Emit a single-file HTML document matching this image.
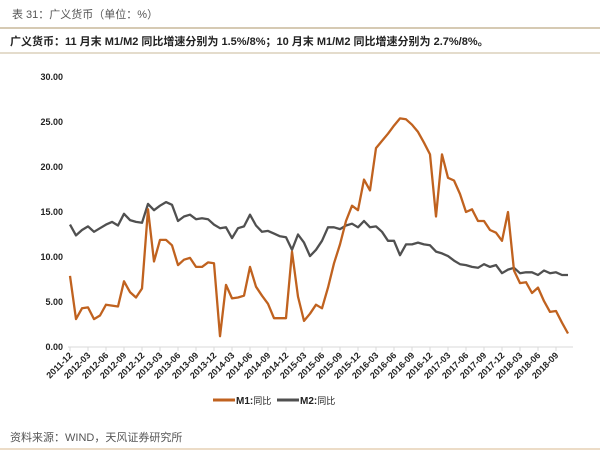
<!DOCTYPE html>
<html><head><meta charset="utf-8"><style>
body{margin:0;background:#fff;width:600px;height:452px;overflow:hidden;font-family:"Liberation Sans","Noto Sans CJK SC",sans-serif;}
</style></head><body>
<svg id="s" width="600" height="452" xmlns="http://www.w3.org/2000/svg" font-family="Liberation Sans, Noto Sans CJK SC, sans-serif">
<text x="12" y="18" font-size="11" fill="#555">表 31：广义货币（单位：%）</text>
<line x1="0" y1="28" x2="600" y2="28" stroke="#c8b89a" stroke-width="1.5"/>
<text x="10" y="45" font-size="11" font-weight="bold" fill="#222">广义货币：11 月末 M1/M2 同比增速分别为 1.5%/8%；10 月末 M1/M2 同比增速分别为 2.7%/8%。</text>
<line x1="0" y1="53" x2="600" y2="53" stroke="#c8b89a" stroke-width="1"/>
<g id="g"></g>
<line x1="213" y1="400" x2="235" y2="400" stroke="#c0621f" stroke-width="3"/>
<text x="236" y="404" font-size="10" font-weight="bold" fill="#222">M1:<tspan font-weight="normal" font-size="9">同比</tspan></text>
<line x1="277" y1="400" x2="299" y2="400" stroke="#505050" stroke-width="3"/>
<text x="300" y="404" font-size="10" font-weight="bold" fill="#222">M2:<tspan font-weight="normal" font-size="9">同比</tspan></text>
<text x="10" y="441" font-size="11" fill="#555">资料来源：WIND，天风证券研究所</text>
<line x1="0" y1="449" x2="600" y2="449" stroke="#d9b88f" stroke-width="1"/>
</svg>
<script>
var m1=[7.9,3.1,4.3,4.4,3.1,3.5,4.7,4.6,4.5,7.3,6.1,5.5,6.5,15.3,9.5,11.9,11.9,11.3,9.1,9.7,9.9,8.9,8.9,9.4,9.3,1.2,6.9,5.4,5.5,5.7,8.9,6.7,5.7,4.8,3.2,3.2,3.2,10.6,5.6,2.9,3.7,4.7,4.3,6.6,9.3,11.4,14.0,15.7,15.2,18.6,17.4,22.1,22.9,23.7,24.6,25.4,25.3,24.7,23.9,22.7,21.4,14.5,21.4,18.8,18.5,17.0,15.0,15.3,14.0,14.0,13.0,12.7,11.8,15.0,8.5,7.1,7.2,6.0,6.6,5.1,3.9,4.0,2.7,1.5];
var m2=[13.6,12.4,13.0,13.4,12.8,13.2,13.6,13.9,13.5,14.8,14.1,13.9,13.8,15.9,15.2,15.7,16.1,15.8,14.0,14.5,14.7,14.2,14.3,14.2,13.6,13.2,13.3,12.1,13.2,13.4,14.7,13.5,12.8,12.9,12.6,12.3,12.2,10.8,12.5,11.6,10.1,10.8,11.8,13.3,13.3,13.1,13.5,13.7,13.3,14.0,13.3,13.4,12.8,11.8,11.8,10.2,11.4,11.4,11.6,11.4,11.3,10.6,10.4,10.1,9.6,9.2,9.1,8.9,8.8,9.2,8.9,9.1,8.2,8.6,8.8,8.2,8.3,8.3,8.0,8.5,8.2,8.3,8.0,8.0];
var x0=70,dx=6.0,y0=347,k=9;
function X(i){return x0+i*dx}function Y(v){return y0-v*k}
var h='';
for(var v=0;v<=30;v+=5){h+='<text x="63" y="'+(Y(v)+3)+'" font-size="9" font-weight="bold" text-anchor="end" fill="#222">'+v.toFixed(2)+'</text>';}
h+='<line x1="68" y1="347" x2="573" y2="347" stroke="#d9d9d9"/>';
var mon=['03','06','09','12'];
for(var t=0;t<28;t++){var i=t*3;var yr=2011+Math.floor((i+11)/12);var mo=((i+11)%12)+1;var lab=yr+'-'+(mo<10?'0':'')+mo;var x=X(i);
h+='<line x1="'+x+'" y1="347" x2="'+x+'" y2="351" stroke="#d9d9d9"/>';
h+='<text x="'+(x+3)+'" y="356" font-size="9" font-weight="bold" fill="#222" text-anchor="end" transform="rotate(-45 '+(x+3)+' 356)">'+lab+'</text>';}
function P(a,c){var d='';for(var i=0;i<a.length;i++)d+=(i?'L':'M')+X(i).toFixed(1)+' '+Y(a[i]).toFixed(1);return '<path d="'+d+'" fill="none" stroke="'+c+'" stroke-width="2.3" stroke-linejoin="round"/>';}
h+=P(m2,'#505050')+P(m1,'#c0621f');
document.getElementById('g').innerHTML=h;
</script>
</body></html>
